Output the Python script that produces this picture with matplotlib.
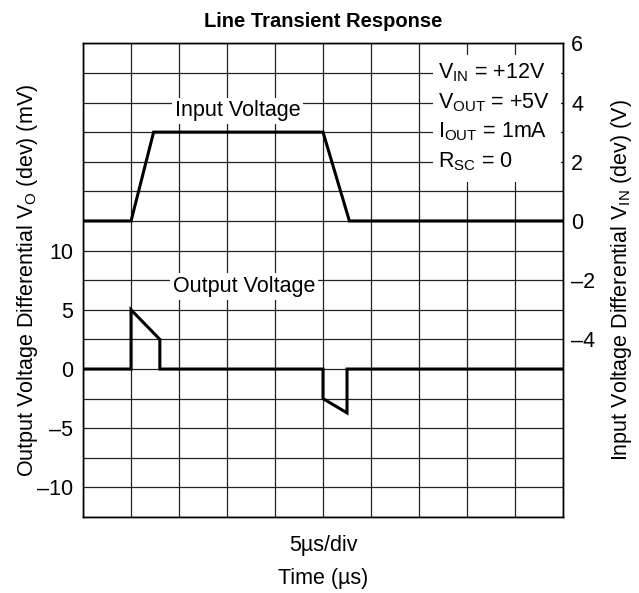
import numpy as np
import matplotlib.pyplot as plt
from matplotlib.ticker import FixedLocator, FixedFormatter

plt.rcParams['font.family'] = ['Liberation Sans', 'DejaVu Sans']
plt.rcParams['mathtext.fontset'] = 'custom'
plt.rcParams['mathtext.rm'] = 'Liberation Sans'
plt.rcParams['mathtext.it'] = 'Liberation Sans'

# time in divisions (5us/div)
t_in = [0, 1, 1.47, 5, 5.55, 10]
v_in = [0, 0, 3, 3, 0, 0]          # V, right axis

t_out = [0, 1, 1, 1.6, 1.6, 5, 5, 5.5, 5.5, 10]
v_out = [0, 0, 5, 2.5, 0, 0, -2.5, -3.7, 0, 0]   # mV, left axis

left_ticks = [-10, -5, 0, 5, 10]
right_ticks = [-4, -2, 0, 2, 4, 6]
conditions = ["$\\mathregular{V_{IN}}$ = +12V", "$\\mathregular{V_{OUT}}$ = +5V",
              "$\\mathregular{I_{OUT}}$ = 1mA", "$\\mathregular{R_{SC}}$ = 0"]

FS = 15.5

fig = plt.figure(figsize=(6.39, 5.93), dpi=100)
ax = fig.add_axes([0.130, 0.128, 0.751, 0.799])
ax2 = ax.twinx()

ax.set_xlim(0, 10)
ax.set_ylim(-12.5, 27.5)
ax2.set_ylim(-10, 6)

# grid: 10 columns, 16 rows
rows = np.arange(-12.5, 27.6, 2.5)
ax.yaxis.set_major_locator(FixedLocator(rows))
ax.yaxis.set_major_formatter(FixedFormatter(
    [f"{r:g}".replace('-', '\u2013') if r in left_ticks else "" for r in rows]))
ax.xaxis.set_major_locator(FixedLocator(np.arange(0, 11, 1)))
ax.set_xticklabels([])
ax.grid(True, color='#222222', lw=0.9)
ax.tick_params(length=0, labelsize=FS, pad=7)
ax2.yaxis.set_major_locator(FixedLocator(right_ticks))
ax2.yaxis.set_major_formatter(FixedFormatter(
    [f"{r:g}".replace('-', '\u2013') for r in right_ticks]))
ax2.tick_params(length=0, labelsize=FS, pad=6)
for a in (ax, ax2):
    for s in a.spines.values():
        s.set_color('black')
        s.set_linewidth(1.0)

ax.plot(t_out, v_out, color='black', lw=2.2, solid_joinstyle='miter')
ax2.plot(t_in, v_in, color='black', lw=2.2, solid_joinstyle='miter')

ax2.text(3.22, 3.72, "Input Voltage", fontsize=FS, ha='center', va='center',
         bbox=dict(facecolor='white', edgecolor='none', pad=2))
ax2.text(3.35, -2.22, "Output Voltage", fontsize=FS, ha='center', va='center',
         bbox=dict(facecolor='white', edgecolor='none', pad=2))
ax2.add_patch(plt.Rectangle((7.3, 1.3), 2.65, 4.3, facecolor='white',
                            edgecolor='none', zorder=2))
for i, c in enumerate(conditions):
    ax2.text(7.4, 5 - i, c, fontsize=FS, ha='left', va='center', zorder=3)

ax.set_title("Line Transient Response", fontsize=14.5, fontweight='bold', pad=12)
ax.set_ylabel("Output Voltage Differential $\\mathregular{V_O}$ (dev) (mV)", fontsize=FS, labelpad=-2)
ax2.set_ylabel("Input Voltage Differential $\\mathregular{V_{IN}}$ (dev) (V)", fontsize=FS, labelpad=10)
ax.text(0.5, -0.06, "5\u00b5s/div", transform=ax.transAxes, ha='center', va='center', fontsize=FS)
ax.text(0.5, -0.13, "Time (\u00b5s)", transform=ax.transAxes, ha='center', va='center', fontsize=FS)

fig.savefig("out.png", dpi=100)
